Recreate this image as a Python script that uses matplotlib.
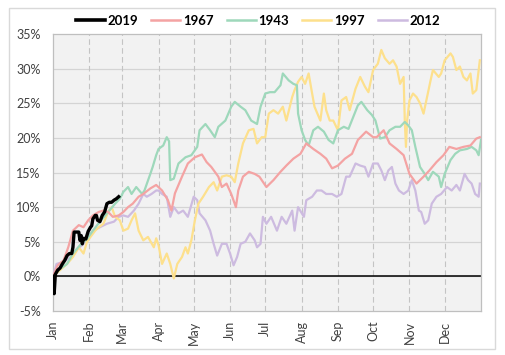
import numpy as np
import matplotlib
matplotlib.use('Agg')
import matplotlib.pyplot as plt
from matplotlib.lines import Line2D
from matplotlib.patches import Rectangle

plt.rcParams['font.family'] = ['Lato', 'DejaVu Sans']

# day of year -> cumulative return (%)
days_2019 = [0, 1, 2, 4, 6, 8, 10, 12, 14, 16, 17, 18, 20, 22, 23, 24, 25, 26, 28,
             30, 32, 33, 34, 36, 37, 38, 40, 42, 44, 46, 48, 50, 52, 54, 56]
ret_2019 = [0.0, -2.5, 0.3, 0.9, 1.2, 1.8, 2.3, 3.0, 3.3, 3.3, 4.2, 6.4, 6.4, 6.4, 5.2,
            5.9, 4.7, 5.5, 5.4, 6.5, 7.1, 7.3, 8.3, 8.8, 8.8, 8.1, 7.9, 8.8, 9.3, 10.5,
            10.7, 10.7, 11.0, 11.2, 11.5]

days_1967 = [0, 4, 9, 13, 17, 22, 26, 30, 34, 39, 43, 47, 51, 56, 60, 64, 68, 73, 77,
             83, 88, 93, 98, 101, 104, 110, 115, 121, 127, 131, 135, 141, 144, 148, 152,
             156, 158, 162, 167, 172, 176, 182, 188, 194, 199, 205, 211, 216, 222, 228,
             233, 238, 243, 249, 255, 260, 267, 273, 276, 282, 287, 293, 299, 304, 310,
             316, 321, 327, 333, 338, 344, 350, 356, 361, 364]
ret_1967 = [0.0, 1.6, 2.3, 4.2, 6.6, 7.4, 7.1, 8.1, 8.8, 9.3, 9.5, 9.3, 8.6, 8.8, 9.3,
            10.0, 10.5, 11.5, 11.9, 12.7, 13.2, 12.4, 11.0, 9.5, 12.0, 14.4, 16.3, 17.2,
            17.6, 16.5, 15.8, 14.4, 12.9, 13.4, 11.9, 10.0, 12.4, 14.4, 15.1, 14.8, 14.4,
            12.9, 13.9, 15.1, 16.0, 17.0, 17.7, 19.2, 18.4, 17.7, 17.0, 15.6, 16.0, 17.0,
            17.7, 19.7, 20.9, 20.1, 20.1, 21.1, 19.2, 18.4, 17.5, 14.8, 13.4, 14.4, 15.3,
            16.5, 17.5, 18.7, 18.4, 18.7, 18.9, 19.9, 20.1]

days_1943 = [0, 6, 12, 17, 23, 29, 34, 40, 46, 53, 57, 60, 64, 67, 71, 76, 78, 83, 85,
             88, 90, 94, 97, 99, 100, 103, 107, 113, 118, 123, 125, 130, 134, 138, 141,
             147, 152, 155, 160, 164, 169, 174, 177, 181, 185, 189, 194, 196, 201, 205,
             208, 209, 212, 215, 218, 222, 226, 231, 235, 239, 243, 248, 252, 256, 260,
             263, 268, 272, 275, 279, 283, 287, 292, 296, 300, 303, 306, 309, 313, 317,
             320, 324, 329, 331, 334, 339, 343, 347, 353, 357, 361, 363, 365]
ret_1943 = [0.0, 1.1, 1.8, 3.3, 4.5, 5.4, 6.6, 7.9, 9.1, 10.5, 11.2, 12.2, 12.9, 11.9,
            12.9, 11.9, 12.4, 14.8, 15.8, 17.5, 18.4, 18.9, 20.1, 19.5, 13.9, 14.1, 16.3,
            17.2, 17.5, 18.7, 21.1, 22.0, 21.1, 20.1, 21.6, 22.5, 24.5, 25.2, 24.5, 24.0,
            22.5, 22.0, 24.5, 26.4, 26.6, 26.6, 27.6, 29.3, 28.3, 27.8, 27.6, 23.5, 21.1,
            19.7, 18.9, 21.1, 21.6, 20.9, 19.7, 19.2, 21.1, 21.6, 21.3, 23.0, 24.7, 25.2,
            24.0, 23.3, 22.5, 19.9, 20.1, 21.1, 21.6, 21.6, 22.3, 21.8, 21.1, 18.7, 15.8,
            14.8, 13.9, 15.1, 14.4, 12.9, 14.8, 16.8, 17.7, 18.2, 18.4, 18.7, 18.2, 17.5,
            19.7]

days_1997 = [0, 6, 12, 17, 22, 26, 29, 32, 36, 39, 43, 47, 50, 53, 57, 60, 64, 67, 70,
             73, 77, 81, 86, 88, 90, 93, 97, 100, 103, 106, 110, 113, 115, 118, 121, 124,
             128, 133, 137, 140, 144, 148, 152, 155, 158, 162, 167, 171, 174, 178, 181,
             184, 188, 192, 196, 199, 204, 206, 209, 212, 215, 218, 221, 223, 228, 231,
             233, 236, 239, 243, 246, 250, 253, 258, 262, 266, 269, 273, 277, 280, 283,
             287, 290, 293, 296, 299, 300, 301, 302, 304, 307, 310, 313, 316, 319, 322,
             324, 329, 331, 334, 339, 341, 344, 347, 350, 353, 356, 358, 361, 364]
ret_1997 = [0.0, 0.9, 1.8, 2.8, 4.2, 3.3, 5.0, 5.7, 6.6, 7.1, 7.6, 9.3, 10.0, 8.6, 8.1,
            6.6, 6.9, 8.1, 9.1, 6.6, 5.2, 5.7, 4.2, 5.5, 4.5, 1.8, 3.3, 1.8, -0.3, 1.8,
            2.8, 4.2, 3.3, 5.2, 8.1, 10.5, 11.5, 12.9, 13.6, 12.4, 14.4, 14.6, 14.4, 13.6,
            16.3, 19.2, 21.1, 21.3, 19.2, 20.1, 20.1, 23.5, 24.0, 23.5, 24.5, 22.5, 25.9,
            26.9, 28.1, 28.8, 27.8, 29.3, 26.4, 24.5, 22.5, 26.4, 24.0, 22.5, 22.5, 21.1,
            25.4, 25.9, 24.0, 27.1, 28.8, 27.4, 26.6, 29.8, 30.7, 32.7, 31.5, 30.7, 31.2,
            30.3, 27.8, 28.8, 22.5, 18.7, 22.5, 25.4, 26.4, 25.9, 25.0, 23.5, 25.9, 28.3,
            29.8, 28.8, 29.3, 31.2, 32.2, 31.7, 29.8, 30.3, 28.8, 28.3, 29.3, 26.4, 26.9,
            31.2]

days_2012 = [0, 3, 9, 15, 20, 26, 30, 34, 40, 46, 52, 56, 60, 64, 69, 73, 77, 80, 84,
             88, 90, 93, 97, 100, 103, 107, 111, 115, 120, 123, 125, 130, 134, 137, 140,
             144, 148, 151, 154, 157, 160, 164, 168, 172, 174, 177, 179, 182, 186, 191,
             195, 199, 204, 206, 209, 214, 216, 221, 225, 229, 233, 238, 242, 246, 250,
             253, 258, 262, 266, 269, 273, 277, 280, 283, 286, 289, 292, 295, 299, 303,
             306, 309, 312, 314, 317, 320, 323, 327, 331, 336, 340, 344, 347, 351, 354,
             357, 360, 363, 364]
ret_2012 = [0.0, 1.8, 2.1, 2.8, 3.8, 4.7, 5.7, 6.6, 7.1, 7.6, 7.9, 8.6, 8.8, 8.6, 9.5,
            10.5, 11.9, 11.5, 11.9, 12.4, 12.4, 11.9, 11.5, 8.6, 10.0, 9.1, 9.5, 8.6, 11.5,
            11.0, 9.1, 8.1, 6.6, 4.7, 3.0, 4.7, 4.7, 3.3, 1.6, 2.8, 4.7, 5.0, 6.2, 5.2, 4.2,
            4.7, 8.6, 7.6, 8.6, 6.6, 8.6, 7.6, 9.5, 6.6, 10.0, 8.6, 11.0, 11.5, 12.4, 12.4,
            11.9, 11.9, 11.5, 11.9, 14.4, 14.4, 16.3, 16.0, 15.8, 14.4, 16.3, 16.3, 15.3,
            13.9, 15.3, 15.8, 13.4, 12.4, 11.9, 12.4, 13.9, 12.4, 9.5, 9.3, 7.6, 8.1, 10.5,
            11.5, 11.9, 12.9, 12.4, 13.2, 12.4, 14.8, 13.9, 13.4, 11.9, 11.5, 13.4]

month_starts = [0, 31, 59, 90, 120, 151, 181, 212, 243, 273, 304, 334]
month_labels = ['Jan', 'Feb', 'Mar', 'Apr', 'May', 'Jun',
                'Jul', 'Aug', 'Sep', 'Oct', 'Nov', 'Dec']
y_ticks = [-5, 0, 5, 10, 15, 20, 25, 30, 35]

C_2019, C_1967, C_1943, C_1997, C_2012 = 'black', '#F4A3A3', '#9ED8BB', '#FDE08C', '#CDBBE0'

W, H = 505, 355
fig = plt.figure(figsize=(W / 100, H / 100), dpi=100)
fig.patches.append(Rectangle((9 / W, 6 / H), 486 / W, 341 / H, transform=fig.transFigure,
                             fill=False, edgecolor='#D9D9D9', linewidth=1.0))
ax = fig.add_axes([53 / W, 1 - 311 / H, 428 / W, 277 / H])
ax.set_facecolor('#F2F2F2')

for y in y_ticks[1:-1]:
    ax.axhline(y, color='#D4D4D4', linewidth=0.9, zorder=1)
for d in month_starts[1:]:
    ax.axvline(d, color='#C4C4C4', linewidth=0.8, linestyle=(0, (5, 3)), zorder=1)
ax.axhline(0, color='black', linewidth=1.1, zorder=2)

lw = 1.6
ax.plot(days_2012, ret_2012, color=C_2012, lw=lw, zorder=3)
ax.plot(days_1997, ret_1997, color=C_1997, lw=lw, zorder=3)
ax.plot(days_1943, ret_1943, color=C_1943, lw=lw, zorder=3)
ax.plot(days_1967, ret_1967, color=C_1967, lw=lw, zorder=3)
ax.plot(days_2019, ret_2019, color=C_2019, lw=2.4, zorder=4)

ax.set_xlim(0, 365)
ax.set_ylim(-5, 35)
ax.set_yticks(y_ticks)
ax.set_yticklabels([f'{v}%' for v in y_ticks])
ax.set_xticks(month_starts)
ax.set_xticklabels(month_labels, rotation=90, va='top', ha='center')
ax.tick_params(axis='both', length=0, labelsize=9, labelcolor='#404040')
ax.tick_params(axis='y', pad=9)
ax.tick_params(axis='x', pad=7)
for s in ax.spines.values():
    s.set_color('#BFBFBF')
    s.set_linewidth(0.9)

handles = [
    Line2D([0], [0], color=C_2019, lw=2.6, label='2019'),
    Line2D([0], [0], color=C_1967, lw=1.8, label='1967'),
    Line2D([0], [0], color=C_1943, lw=1.8, label='1943'),
    Line2D([0], [0], color=C_1997, lw=1.8, label='1997'),
    Line2D([0], [0], color=C_2012, lw=1.8, label='2012'),
]
fig.legend(handles=handles, loc='center', bbox_to_anchor=(258 / W, 1 - 21 / H), ncol=5,
           frameon=False, prop={'weight': 'bold', 'size': 9.5}, handlelength=2.2,
           handletextpad=0.2, columnspacing=1.0, borderaxespad=0)

fig.savefig('out.png', dpi=100)
